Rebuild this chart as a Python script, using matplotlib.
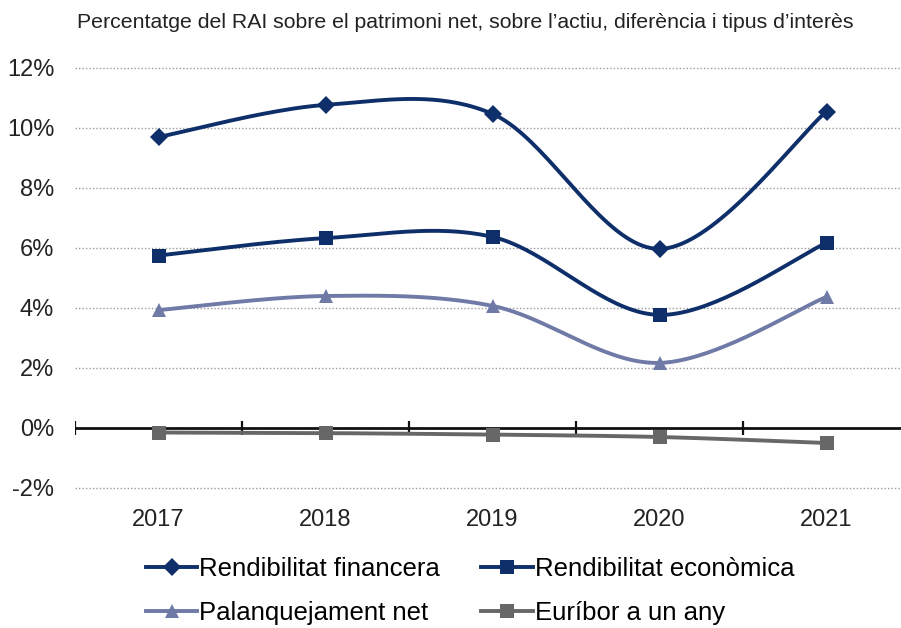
import numpy as np
import matplotlib
matplotlib.use("Agg")
import matplotlib.pyplot as plt
from matplotlib.lines import Line2D

years = ["2017", "2018", "2019", "2020", "2021"]
rend_financera = [9.7, 10.77, 10.47, 5.97, 10.55]
rend_economica = [5.75, 6.33, 6.37, 3.77, 6.17]
palanquejament = [3.93, 4.40, 4.07, 2.17, 4.37]
euribor = [-0.15, -0.17, -0.22, -0.30, -0.50]

labels = ["Rendibilitat financera", "Rendibilitat econòmica",
          "Palanquejament net", "Euríbor a un any"]
subtitle = "Percentatge del RAI sobre el patrimoni net, sobre l\u2019actiu, diferència i tipus d\u2019interès"
yticks = [-2, 0, 2, 4, 6, 8, 10, 12]

NAVY = "#0e2f6a"
LIGHT = "#6f7aa6"
GREY = "#676767"

plt.rcParams['font.family'] = ['Liberation Sans', 'DejaVu Sans']


def smooth(xs, ys, n=40):
    """Bezier smoothing similar to spreadsheet 'smoothed line'."""
    P = np.column_stack([xs, ys]).astype(float)
    P = np.vstack([P[0], P, P[-1]])
    out = []
    for i in range(1, len(P) - 2):
        p0, p1, p2, p3 = P[i - 1], P[i], P[i + 1], P[i + 2]
        c1 = p1 + (p2 - p0) / 6.0
        c2 = p2 - (p3 - p1) / 6.0
        t = np.linspace(0, 1, n)[:, None]
        seg = ((1 - t) ** 3) * p1 + 3 * ((1 - t) ** 2) * t * c1 + 3 * (1 - t) * t ** 2 * c2 + t ** 3 * p2
        out.append(seg if i == 1 else seg[1:])
    s = np.vstack(out)
    return s[:, 0], s[:, 1]


fig = plt.figure(figsize=(9.01, 6.28), dpi=100)
ax = fig.add_axes([75 / 901, (628 - 488) / 628, 835 / 901, 420 / 628])

x = np.arange(len(years))
series = [
    (rend_financera, NAVY, "D", 9),
    (rend_economica, NAVY, "s", 10),
    (palanquejament, LIGHT, "^", 10),
    (euribor, GREY, "s", 10),
]
lw = 2.8
for vals, col, mk, ms in series:
    sx, sy = smooth(x, vals)
    ax.plot(sx, sy, color=col, lw=lw, solid_capstyle='round', zorder=3)
    ax.plot(x, vals, linestyle='none', marker=mk, markersize=ms, color=col,
            markeredgewidth=0, zorder=4)

ax.set_xlim(-0.5, len(years) - 0.5)
ax.set_ylim(-2, 12)
ax.set_yticks(yticks)
ax.set_yticklabels([f"{v}%" for v in yticks])
ax.set_xticks(x)
ax.set_xticklabels(years)
ax.tick_params(axis='both', length=0, labelsize=17, colors="#222222")
ax.tick_params(axis='y', pad=15)
ax.tick_params(axis='x', pad=15)
for sp in ax.spines.values():
    sp.set_visible(False)
for v in yticks:
    if v != 0:
        ax.axhline(v, color="#9a9a9a", lw=1.0, ls=(0, (1, 1.5)), zorder=1, clip_on=False)
ax.axhline(0, color="#111111", lw=2.0, zorder=2)
bounds = np.arange(-0.5, len(years), 1.0)
ax.vlines(bounds, -0.22, 0.22, color="#111111", lw=1.6, zorder=2)

fig.text(465 / 901, 1 - 22 / 628, subtitle, ha='center', va='center',
         fontsize=15.3, color="#222222")

handles = [Line2D([0], [0], color=c, lw=lw, marker=m, markersize=ms, markeredgewidth=0)
           for _, c, m, ms in series]
order = [0, 2, 1, 3]
fig.legend([handles[i] for i in order], [labels[i] for i in order], ncol=2,
           loc='center', bbox_to_anchor=(470 / 901, 1 - 591 / 628),
           frameon=False, fontsize=18.5, handlelength=2.0, handletextpad=0.08,
           columnspacing=1.6, labelspacing=0.75, borderpad=0)

fig.savefig("out.png", dpi=100)
